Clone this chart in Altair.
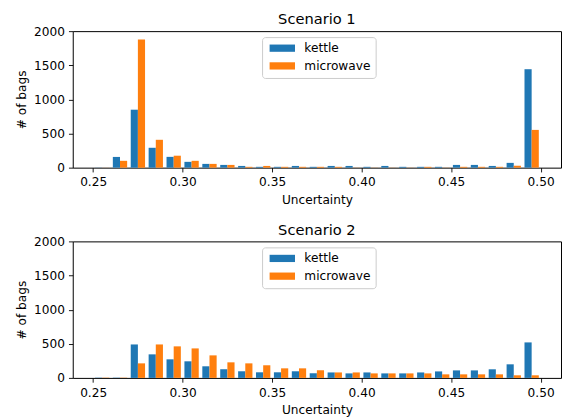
import altair as alt
import pandas as pd

# Histogram bins (left edges), width 0.01
bin_starts = [0.25, 0.26, 0.27, 0.28, 0.29, 0.30, 0.31, 0.32, 0.33, 0.34,
              0.35, 0.36, 0.37, 0.38, 0.39, 0.40, 0.41, 0.42, 0.43, 0.44,
              0.45, 0.46, 0.47, 0.48, 0.49]
series_names = ["kettle", "microwave"]
scenarios = ["Scenario 1", "Scenario 2"]

s1_kettle = [2, 157, 849, 291, 158, 85, 55, 40, 25, 12, 12, 25, 12,
             25, 25, 12, 25, 12, 12, 12, 40, 40, 25, 70, 1442]
s1_microwave = [1, 100, 1879, 408, 175, 100, 55, 40, 12, 25, 12, 12, 12,
                12, 2, 2, 2, 2, 12, 2, 12, 12, 12, 28, 553]
s2_kettle = [4, 4, 490, 345, 272, 243, 170, 127, 97, 82, 82, 97, 68,
             80, 66, 80, 66, 66, 80, 95, 110, 110, 126, 199, 520]
s2_microwave = [4, 4, 213, 490, 462, 432, 330, 228, 213, 185, 140, 140, 112,
                80, 80, 66, 66, 66, 66, 52, 52, 52, 52, 38, 38]

x_ticks = [0.25, 0.30, 0.35, 0.40, 0.45, 0.50]
y_ticks = [0, 500, 1000, 1500, 2000]
colors = ["#1f77b4", "#ff7f0e"]

values = {
    "Scenario 1": [s1_kettle, s1_microwave],
    "Scenario 2": [s2_kettle, s2_microwave],
}
rows = []
for scen in scenarios:
    for k, name in enumerate(series_names):
        for b, c in zip(bin_starts, values[scen][k]):
            rows.append({"scenario": scen, "series": name, "k": k,
                         "bin_start": b, "count": c})
df = pd.DataFrame(rows)

FONT = "DejaVu Sans"
# wide, flat legend swatch (3.5:1) drawn in a unit box scaled by sqrt(size)/2
RECT = "M-3.5,-1H3.5V1H-3.5Z"


def panel(scen):
    return (
        alt.Chart(df, title=alt.Title(scen))
        .transform_filter(alt.datum.scenario == scen)
        .transform_calculate(
            x0="datum.bin_start + 0.001 + 0.004 * datum.k",
            x1="datum.bin_start + 0.005 + 0.004 * datum.k",
        )
        .mark_bar()
        .encode(
            x=alt.X("x0:Q",
                    scale=alt.Scale(domain=[0.2386, 0.5114], nice=False, zero=False),
                    axis=alt.Axis(values=x_ticks, format=".2f", title="Uncertainty")),
            x2="x1:Q",
            y=alt.Y("count:Q",
                    scale=alt.Scale(domain=[0, 2000], nice=False),
                    axis=alt.Axis(values=y_ticks, format="d", title="# of bags")),
            y2=alt.datum(0),
            color=alt.Color("series:N",
                            scale=alt.Scale(domain=series_names, range=colors),
                            legend=alt.Legend(
                                title=None, orient="none", legendX=190, legendY=6,
                                symbolType=RECT, symbolSize=53,
                                symbolOffset=9.2,
                                symbolStrokeWidth=0, symbolOpacity=1,
                                labelFont=FONT, labelFontSize=12.2, labelColor="#000000",
                                labelOffset=16, padding=5, rowPadding=4.8,
                                strokeColor="#cccccc", fillColor="rgba(255,255,255,0.8)",
                                cornerRadius=3,
                            )),
        )
        .properties(width=490, height=137)
    )


chart = (
    alt.vconcat(panel("Scenario 1"), panel("Scenario 2"), spacing=74, bounds="flush")
    .resolve_scale(color="independent")
    .resolve_legend(color="independent")
    .properties(padding={"left": 15, "top": 10.5, "right": 0, "bottom": 0})
    .configure_view(stroke="#000000", strokeWidth=1)
    .configure_axis(
        grid=False, domain=False, tickColor="#000000", tickSize=4.3, tickWidth=0.9,
        labelFont=FONT, labelFontSize=12.2, labelColor="#000000", labelPadding=4,
        titleFont=FONT, titleFontSize=12.2, titleFontWeight="normal", titleColor="#000000",
        titlePadding=5,
    )
    .configure_title(font=FONT, fontSize=14.7, fontWeight="normal", color="#000000",
                     offset=-2, anchor="middle")
    .configure_bar(strokeWidth=0)
)

chart.save("out.html", embed_options={"renderer": "svg", "actions": False})
